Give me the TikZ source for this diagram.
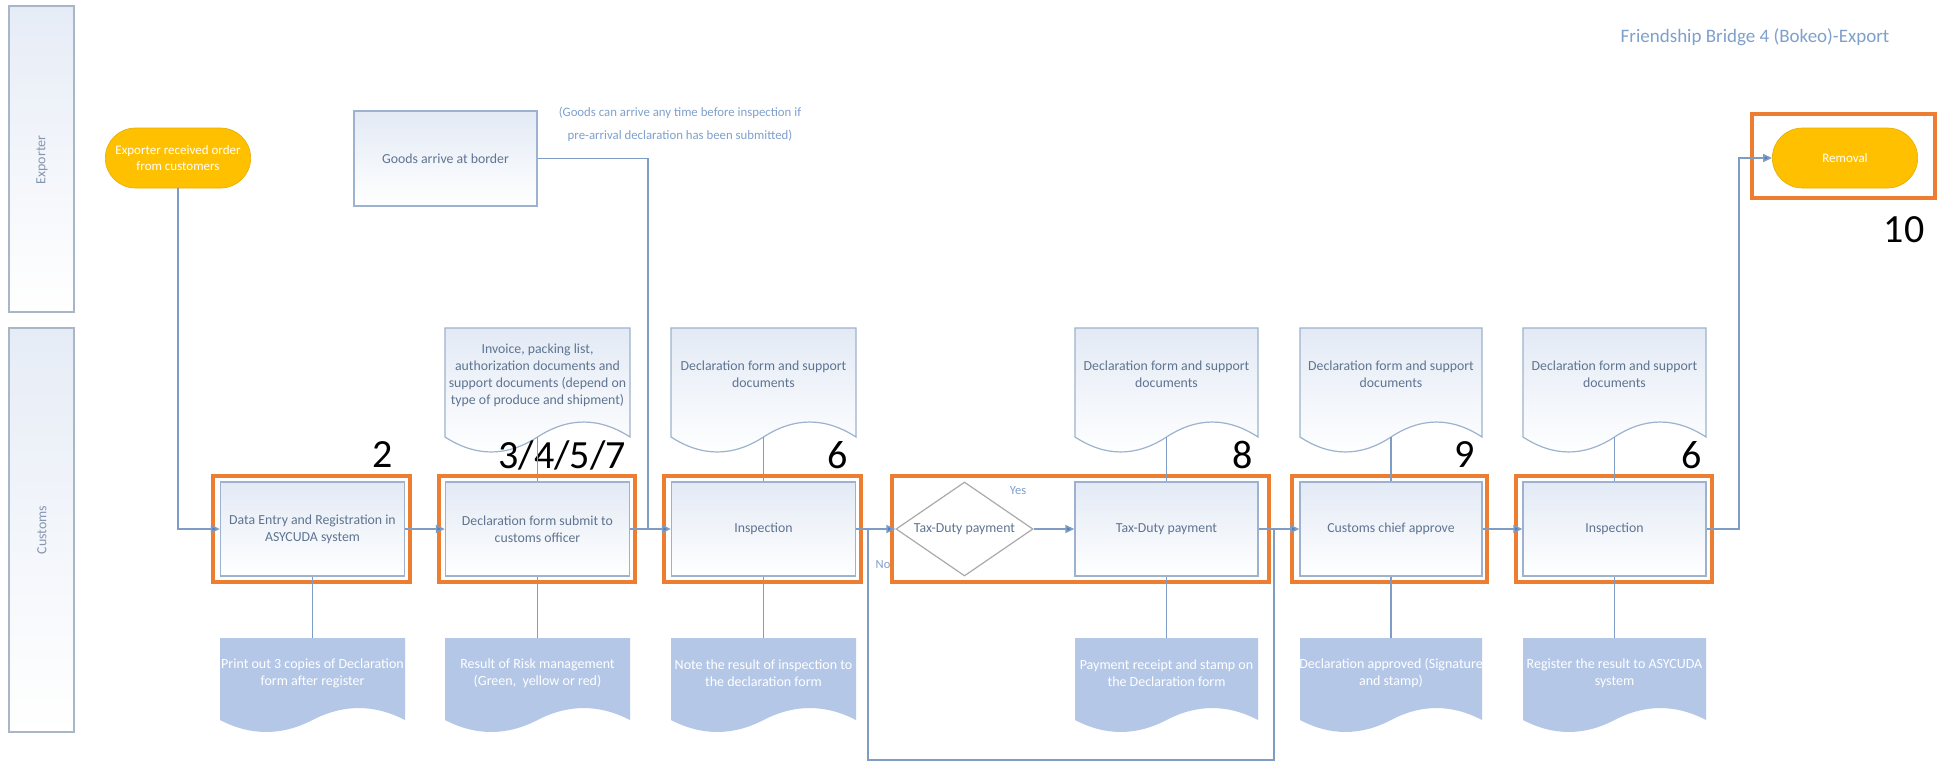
\documentclass[tikz,border=0pt]{standalone}
\usepackage{fontspec}
\setmainfont{Carlito}
\usetikzlibrary{arrows.meta,shapes.geometric,shapes.misc,fit}
\definecolor{cLine}{HTML}{7F9DC4}
\definecolor{cArrow}{HTML}{4F81BD}
\definecolor{cBox}{HTML}{9DB2CE}
\definecolor{cBoxTop}{HTML}{E3EAF5}
\definecolor{cTxt}{HTML}{5E7491}
\definecolor{cLane}{HTML}{A9B6C8}
\definecolor{cLaneTop}{HTML}{E6ECF6}
\definecolor{cLaneTxt}{HTML}{8797B0}
\definecolor{cOrange}{HTML}{ED7D31}
\definecolor{cGold}{HTML}{FFC000}
\definecolor{cDocFill}{HTML}{B4C7E7}
\definecolor{cNote}{HTML}{7FA0CC}
\definecolor{cDia}{HTML}{AAAAAA}
\newcommand{\mydoc}[7]{%
  \path[#2] (#3,#6) -- (#3,#5) -- (#4,#5) -- (#4,#6)
    .. controls ({#4-(#4-#3)/6},{#6-1.33*#7}) and ({#4-(#4-#3)/3},{#6-1.33*#7}) .. ({(#3+#4)/2},#6)
    .. controls ({(#3+#4)/2-(#4-#3)/6},{#6+1.33*#7}) and ({#3+(#4-#3)/6},{#6+1.33*#7}) .. (#3,#6) -- cycle;
  \coordinate (#1w) at ({(#3+#4)/2},#6);
  \coordinate (#1t) at ({(#3+#4)/2},#5);
}
\begin{document}
\begin{tikzpicture}[x=1pt,y=-1pt,
  every node/.style={font=\fontsize{13.8}{17}\selectfont},
  lane/.style={draw=cLane, line width=1.2pt, top color=cLaneTop, bottom color=white, inner sep=0pt},
  lanelabel/.style={text=cLaneTxt, font=\fontsize{14}{16}\selectfont, rotate=90},
  procbox/.style={draw=cBox, line width=1.3pt, top color=cBoxTop, bottom color=white,
    minimum width=184pt, minimum height=94pt, inner sep=2pt, align=center, text=cTxt},
  docout/.style={draw=cBox, line width=1.2pt, top color=cBoxTop, bottom color=white},
  docfill/.style={fill=cDocFill},
  doctext/.style={text=cTxt, align=center, inner sep=0pt},
  docwhite/.style={text=white, align=center, inner sep=0pt, font=\fontsize{14}{17}\selectfont},
  term/.style={rounded rectangle, fill=cGold, draw=cGold!90!black, line width=0.6pt, text=white,
    minimum width=152pt, minimum height=60pt, align=center, font=\fontsize{13}{16}\selectfont},
  frame/.style={draw=cOrange, line width=3.5pt, inner sep=0pt},
  conn/.style={draw=cLine, line width=1.5pt, -{Triangle[length=9pt,width=8pt,fill=cArrow]}},
  plain/.style={draw=cLine, line width=1.5pt},
  num/.style={text=black, font=\fontsize{40}{42}\selectfont, inner sep=0pt},
  dia/.style={diamond, draw=cDia, line width=1.2pt, fill=white, minimum width=137pt, minimum height=94pt,
    aspect=1.46, inner sep=0pt, text=cTxt},
  note/.style={text=cNote, align=center, inner sep=0pt}
]
\useasboundingbox (0,0) rectangle (1937,764);
\fill[white] (0,0) rectangle (1937,764);

% lanes
\node[lane, minimum width=65pt, minimum height=306pt] (laneE) at (41.5,159) {};
\node[lanelabel] (laneEl) at (42,160) {Exporter};
\node[lane, minimum width=65pt, minimum height=404pt] (laneC) at (41.5,530) {};
\node[lanelabel] (laneCl) at (42,530) {Customs};

% title & note
\node[text=cNote, font=\fontsize{19}{22}\selectfont, inner sep=0pt] (title) at (1755,37) {Friendship Bridge 4 (Bokeo)-Export};
\node[note, font=\fontsize{12.8}{23}\selectfont] (note) at (680,124) {(Goods can arrive any time before inspection if\\pre-arrival declaration has been submitted)};

% exporter lane
\node[term] (t1) at (178,158) {Exporter received order\\from customers};
\node[procbox, minimum width=183pt, minimum height=95pt] (goods) at (445.5,158.5) {Goods arrive at border};
\node[term] (rem) at (1845,158) {Removal};

% top documents
\mydoc{dt2}{docout}{445}{630}{328}{437}{15}
\mydoc{dt3}{docout}{671}{856}{328}{437}{15}
\mydoc{dt4}{docout}{1075}{1258}{328}{437}{15}
\mydoc{dt5}{docout}{1300}{1482}{328}{437}{15}
\mydoc{dt6}{docout}{1523}{1706}{328}{437}{15}
\node[doctext] (tt2) at (537.5,375) {Invoice, packing list,\\authorization documents and\\support documents (depend on\\type of produce and shipment)};
\node[doctext] (tt3) at (763.5,374) {Declaration form and support\\documents};
\node[doctext] (tt4) at (1166.5,374) {Declaration form and support\\documents};
\node[doctext] (tt5) at (1391,374) {Declaration form and support\\documents};
\node[doctext] (tt6) at (1614.5,374) {Declaration form and support\\documents};

% bottom documents
\mydoc{db1}{docfill}{220}{405}{638}{720}{12}
\mydoc{db2}{docfill}{445}{630}{638}{720}{12}
\mydoc{db3}{docfill}{671}{856}{638}{720}{12}
\mydoc{db4}{docfill}{1075}{1258}{638}{720}{12}
\mydoc{db5}{docfill}{1300}{1482}{638}{720}{12}
\mydoc{db6}{docfill}{1523}{1706}{638}{720}{12}
\node[docwhite] (tb1) at (312.5,673) {Print out 3 copies of Declaration\\form after register};
\node[docwhite] (tb2) at (537.5,673) {Result of Risk management\\(Green,\ \ yellow or red)};
\node[docwhite] (tb3) at (763.5,673) {Note the result of inspection to\\the declaration form};
\node[docwhite] (tb4) at (1166.5,673) {Payment receipt and stamp on\\the Declaration form};
\node[docwhite] (tb5) at (1391,673) {Declaration approved (Signature\\and stamp)};
\node[docwhite] (tb6) at (1614.5,673) {Register the result to ASYCUDA\\system};

% process boxes
\node[procbox] (b1) at (312.5,529) {Data Entry and Registration in\\ASYCUDA system};
\node[procbox] (b2) at (537.5,529) {Declaration form submit to\\customs officer};
\node[procbox] (b3) at (763.5,529) {Inspection};
\node[dia] (dia) at (964.5,529) {Tax-Duty payment};
\node[procbox, minimum width=183pt] (tax) at (1166.5,529) {Tax-Duty payment};
\node[procbox, minimum width=182pt] (b5) at (1391,529) {Customs chief approve};
\node[procbox, minimum width=183pt] (b6) at (1614.5,529) {Inspection};

% orange frames
\node[frame, fit={(213,476) (410,582)}] (f1) {};
\node[frame, fit={(439,476) (635,582)}] (f2) {};
\node[frame, fit={(664,476) (861,582)}] (f3) {};
\node[frame, fit={(892,476) (1269,582)}] (f4) {};
\node[frame, fit={(1292,476) (1487,582)}] (f5) {};
\node[frame, fit={(1516,476) (1712,582)}] (f6) {};
\node[frame, fit={(1752,114) (1935,198)}] (f7) {};

% step numbers
\node[num] (n2) at (383,455) {2};
\node[num] (n3) at (562,455) {3/4/5/7};
\node[num] (n6a) at (838,455) {6};
\node[num] (n8) at (1243,455) {8};
\node[num] (n9) at (1465,455) {9};
\node[num] (n6b) at (1692,455) {6};
\node[num] (n10) at (1904,230) {10};

% labels
\node[note, font=\fontsize{12.5}{14}\selectfont] (yes) at (1018,491) {Yes};
\node[note, font=\fontsize{12.5}{14}\selectfont] (no) at (883,565) {No};

% coordinates
\coordinate (jg) at (648,529);
\coordinate (jr) at (1739,529);
\coordinate (nA) at (868,529);
\coordinate (nL) at (868,760);
\coordinate (nB) at (1274,529);

% connectors
\draw[plain] (dt2w) -- (b2.north);
\draw[plain] (dt3w) -- (b3.north);
\draw[plain] (dt4w) -- (tax.north);
\draw[plain] (dt5w) -- (b5.north);
\draw[plain] (dt6w) -- (b6.north);
\draw[plain] (b1.south) -- (db1t);
\draw[plain] (b2.south) -- (db2t);
\draw[plain] (b3.south) -- (db3t);
\draw[plain] (tax.south) -- (db4t);
\draw[plain] (b5.south) -- (db5t);
\draw[plain] (b6.south) -- (db6t);

\draw[plain] (goods.east) -| (jg);
\draw[plain] (nA) -- (nL) -| (nB);
\draw[conn] (t1.south) |- (b1.west);
\draw[conn] (b1.east) -- (b2.west);
\draw[conn] (b2.east) -- (b3.west);
\draw[conn] (b3.east) -- (dia.west);
\draw[conn] (dia.east) -- (tax.west);
\draw[conn] (tax.east) -- (b5.west);
\draw[conn] (b5.east) -- (b6.west);
\draw[conn] (b6.east) -- (jr) |- (rem.west);
\end{tikzpicture}
\end{document}
